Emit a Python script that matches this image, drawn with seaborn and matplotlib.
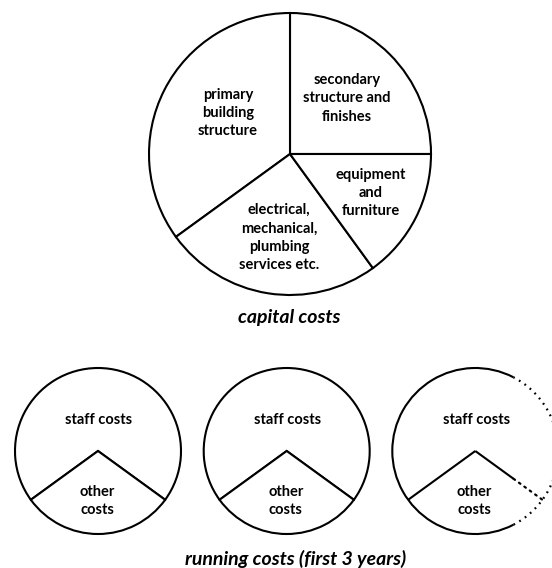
import matplotlib
matplotlib.use('Agg')
import matplotlib.pyplot as plt
from matplotlib.patches import Arc
import numpy as np
import seaborn as sns

# Data (shares, in percent)
capital_labels = ['secondary\nstructure and\nfinishes',
                  'primary\nbuilding\nstructure',
                  'electrical,\nmechanical,\nplumbing\nservices etc.',
                  'equipment\nand\nfurniture']
capital_shares = [25, 35, 25, 15]

running_labels = ['staff costs', 'other\ncosts']
running_year1 = [70, 30]
running_year2 = [70, 30]
running_year3 = [70, 30]

sns.set_theme(style='white')
plt.rcParams['font.family'] = ['Lato', 'DejaVu Sans']

W, H = 552, 568
fig = plt.figure(figsize=(W / 100, H / 100), dpi=100)
ax = fig.add_axes([0, 0, 1, 1])

edge = dict(edgecolor='black', linewidth=1.5, facecolor='white')
txt = dict(ha='center', va='center', fontsize=10.5, fontweight='bold',
           linespacing=1.38, color='black')
title = dict(ha='center', va='center', fontsize=14, fontstyle='italic',
             fontweight='bold', color='black')
dots = (0, (0.8, 2.2))

# capital costs pie
big_c, big_r = (290, H - 154), 141
ax.pie(capital_shares, startangle=0, counterclock=True, center=big_c,
       radius=big_r, wedgeprops=edge)
cap_pos = [(347, H - 98.5), (228, H - 113), (279, H - 237.5), (371, H - 193)]
for lab, (x, y) in zip(capital_labels, cap_pos):
    ax.text(x, y, lab, **txt)
ax.text(289, H - 318, 'capital costs', **title)

# running costs pies
small_r = 83
small_cx = [98, 286.7, 475.3]
small_cy = H - 451
years = [running_year1, running_year2, running_year3]
for i, (cx, vals) in enumerate(zip(small_cx, years)):
    if i < 2:
        ax.pie(vals, startangle=-36, center=(cx, small_cy), radius=small_r,
               wedgeprops=edge)
    else:
        # third year: outline drawn by hand, right side dotted (projection)
        wedges, _ = ax.pie(vals, startangle=-36, center=(cx, small_cy),
                           radius=small_r,
                           wedgeprops=dict(edgecolor='none', facecolor='white'))
        other = wedges[1]
        c, r = other.center, other.r
        cut = np.degrees(np.arccos(0.46))  # where the solid outline stops
        ax.add_patch(Arc(c, 2 * r, 2 * r, theta1=cut, theta2=360 - cut,
                         color='black', lw=1.5))
        ax.add_patch(Arc(c, 2 * r, 2 * r, theta1=-cut, theta2=cut,
                         color='black', lw=1.6, linestyle=dots))
        a1, a2 = np.radians(other.theta1), np.radians(other.theta2)
        ax.plot([c[0], c[0] + r * np.cos(a1)], [c[1], c[1] + r * np.sin(a1)],
                color='black', lw=1.5, solid_capstyle='butt')
        f = 0.57
        ax.plot([c[0], c[0] + f * r * np.cos(a2)],
                [c[1], c[1] + f * r * np.sin(a2)],
                color='black', lw=1.5, solid_capstyle='butt')
        ax.plot([c[0] + f * r * np.cos(a2), c[0] + r * np.cos(a2)],
                [c[1] + f * r * np.sin(a2), c[1] + r * np.sin(a2)],
                color='black', lw=1.6, linestyle=dots, dash_capstyle='round')
    ax.text(cx + 1, small_cy + 31, running_labels[0], **txt)
    ax.text(cx - 1, small_cy - 50, running_labels[1], **txt)

ax.text(296, H - 559, 'running costs (first 3 years)', **title)

ax.set_xlim(0, W)
ax.set_ylim(0, H)
ax.set_aspect('equal')
ax.axis('off')

fig.savefig('out.png', dpi=100, facecolor='white')
